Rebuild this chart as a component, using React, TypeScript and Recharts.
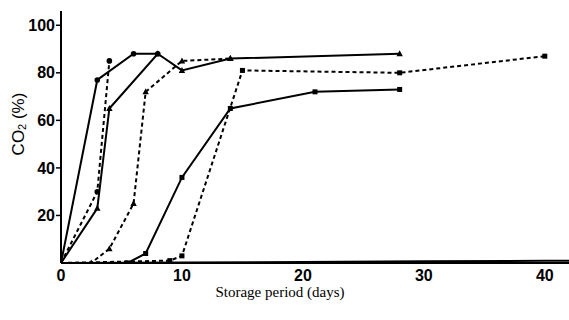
import { LineChart, Line, XAxis, YAxis, Label } from "recharts";

// circles, solid
const aX = [0, 3, 6, 8];
const aY = [0, 77, 88, 88];
// circles, dashed
const bX = [0, 3, 4];
const bY = [0, 30, 85];
// triangles, solid
const cX = [0, 3, 4, 8, 10, 14, 28];
const cY = [0, 23, 65, 88, 81, 86, 88];
// triangles, dashed
const dX = [0, 2.5, 4, 6, 7, 10, 14];
const dY = [0, 0, 6, 25, 72, 85, 86];
// squares, solid
const eX = [0, 5.5, 7, 10, 14, 21, 28];
const eY = [0, 0, 4, 36, 65, 72, 73];
// squares, dashed
const fX = [0, 9, 10, 15, 28, 40];
const fY = [0, 1, 3, 81, 80, 87];
// control, stays near zero
const gX = [0, 10, 20, 30, 40, 42];
const gY = [0, 0.2, 0.4, 0.7, 0.9, 0.9];

const xTicks = [0, 10, 20, 30, 40];
const yTicks = [20, 40, 60, 80, 100];

const zip = (xs: number[], ys: number[]) => xs.map((x, i) => ({ x, y: ys[i] }));

const Circle = (p: any) =>
  p.index === 0 ? null : <circle cx={p.cx} cy={p.cy} r={2.8} fill="#000" />;
const Tri = (p: any) =>
  p.index === 0 ? null : (
    <path d={`M${p.cx},${p.cy - 3.5}L${p.cx + 3.2},${p.cy + 2.5}L${p.cx - 3.2},${p.cy + 2.5}Z`} fill="#000" />
  );
const Square = (p: any) =>
  p.index === 0 ? null : <rect x={p.cx - 2.5} y={p.cy - 2.5} width={5} height={5} fill="#000" />;

const series = [
  { key: "a", data: zip(aX, aY), dash: undefined, dot: Circle },
  { key: "b", data: zip(bX, bY), dash: "4 3", dot: Circle },
  { key: "c", data: zip(cX, cY), dash: undefined, dot: Tri },
  { key: "d", data: zip(dX, dY), dash: "4 3", dot: Tri },
  { key: "e", data: zip(eX, eY), dash: undefined, dot: Square },
  { key: "f", data: zip(fX, fY), dash: "4 3", dot: Square },
  { key: "g", data: zip(gX, gY), dash: undefined, dot: false as any },
];

const tickStyle = { fontFamily: "Liberation Sans, Arial, sans-serif", fontSize: 16, fill: "#000", fontWeight: 600 };

const XTitle = () => (
  <text x={280} y={297} textAnchor="middle" fontFamily="Liberation Serif, Times New Roman, serif" fontSize={15} fill="#000">
    Storage period (days)
  </text>
);

const YTitle = () => (
  <text
    x={18}
    y={124}
    transform="rotate(-90 18 124)"
    textAnchor="middle"
    dominantBaseline="central"
    fontFamily="Liberation Sans, Arial, sans-serif"
    fontSize={17}
    fill="#000"
  >
    CO<tspan fontSize={11} dy={4}>2</tspan>
    <tspan dy={-4}> (%)</tspan>
  </text>
);

export default function App() {
  return (
    <div style={{ position: "absolute", left: 0, top: 0, width: 569, height: 320, background: "#fff" }}>
      <LineChart width={569} height={320} margin={{ top: 11, right: 0, left: 0, bottom: 0 }}>
        <XAxis
          type="number"
          dataKey="x"
          domain={[0, 42]}
          ticks={xTicks}
          allowDataOverflow
          height={57}
          tickLine={false}
          tickSize={4}
          tickMargin={3}
          axisLine={{ stroke: "#000", strokeWidth: 2 }}
          tick={tickStyle}
        >
          <Label content={<XTitle />} />
        </XAxis>
        <YAxis
          type="number"
          dataKey="y"
          domain={[0, 106]}
          ticks={yTicks}
          allowDataOverflow
          width={61}
          tickSize={5}
          tickMargin={1}
          tickLine={{ stroke: "#000", strokeWidth: 1.5 }}
          axisLine={{ stroke: "#000", strokeWidth: 2 }}
          tick={tickStyle}
        >
          <Label content={<YTitle />} />
        </YAxis>
        {series.map((s) => (
          <Line
            key={s.key}
            data={s.data}
            dataKey="y"
            type="linear"
            stroke="#000"
            strokeWidth={2}
            strokeDasharray={s.dash}
            dot={s.dot}
            activeDot={false}
            isAnimationActive={false}
          />
        ))}
      </LineChart>
    </div>
  );
}
